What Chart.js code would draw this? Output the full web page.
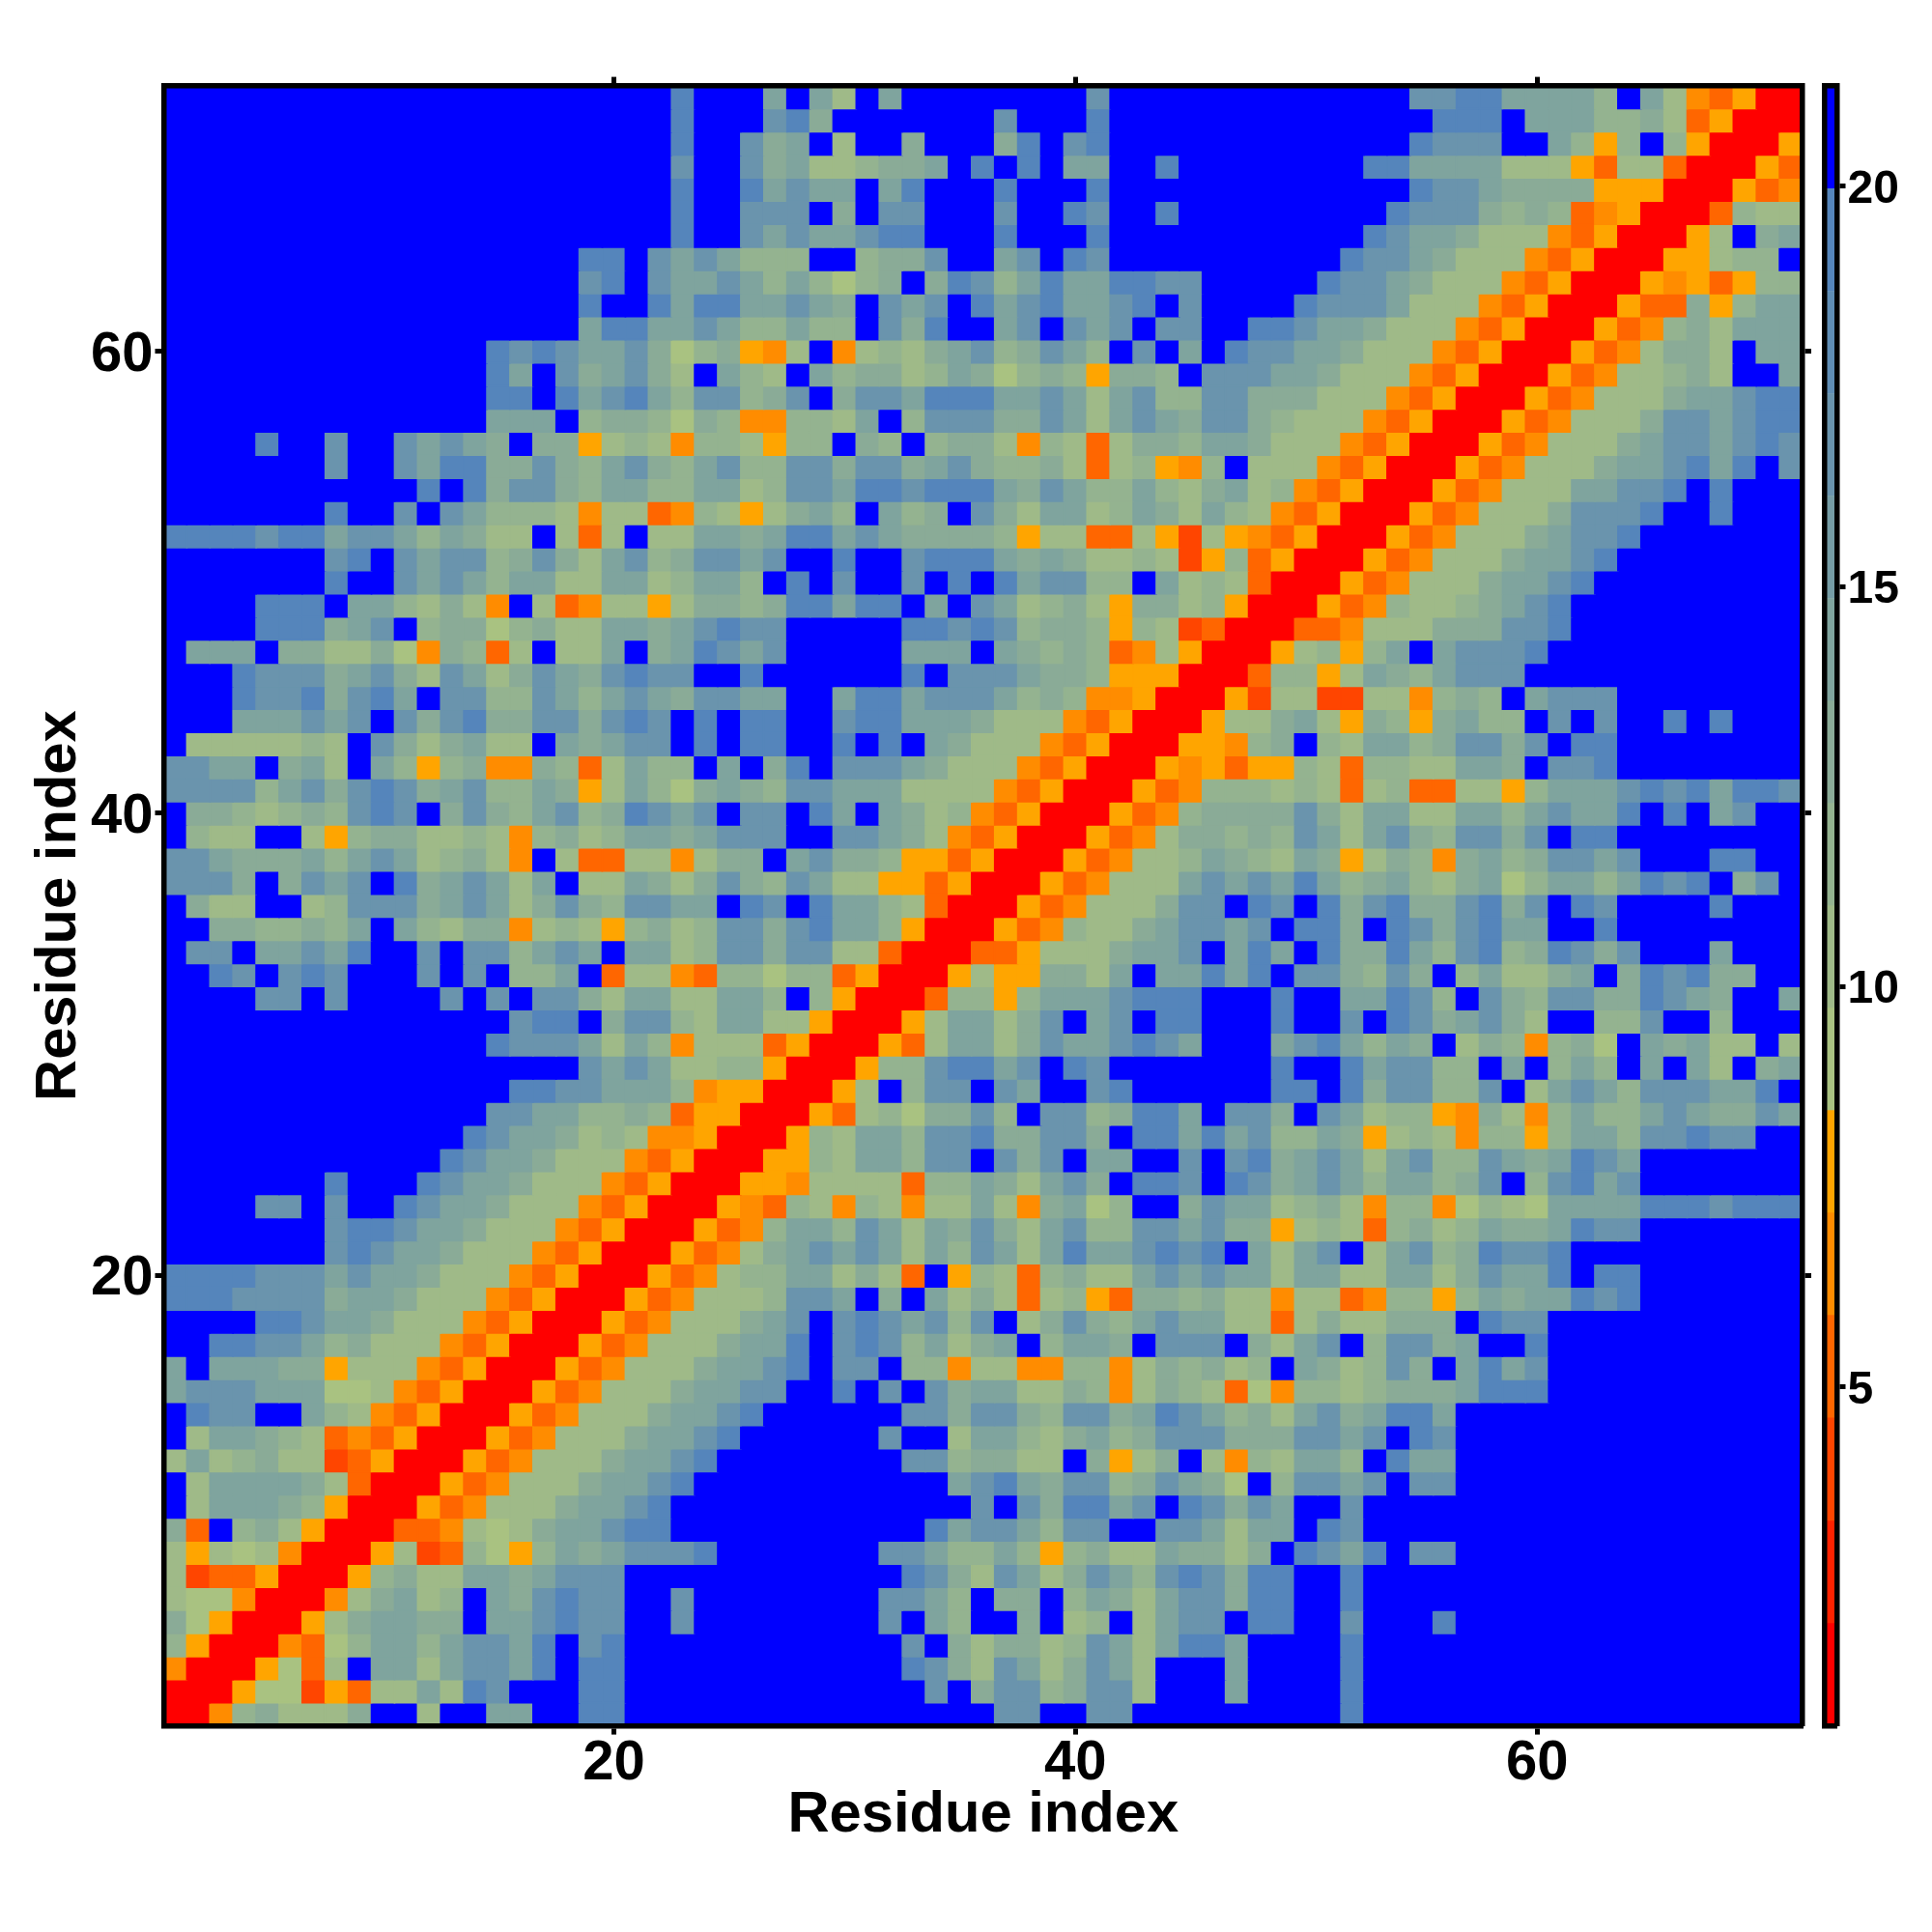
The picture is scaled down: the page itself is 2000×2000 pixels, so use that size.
<!DOCTYPE html>
<html>
<head>
<meta charset="utf-8">
<title>Residue distance map</title>
<script src="https://cdn.jsdelivr.net/npm/chart.js@4/dist/chart.umd.min.js"></script>
<style>
  html, body { margin: 0; padding: 0; background: #fff; }
  #wrap { position: relative; width: 2000px; height: 2000px; }
  canvas { position: absolute; top: 0; }
  #map { left: 0; }
  #bar { left: 1860px; }
</style>
</head>
<body>
<div id="wrap">
  <canvas id="map" width="2000" height="2000"></canvas>
  <canvas id="bar" width="140" height="2000"></canvas>
</div>
<script>
const axisTitle = "Residue index";
const residueTicks = [20, 40, 60];
const colorbarTicks = [5, 10, 15, 20];
const colorBreaks = [0.76, 2.04, 3.32, 4.61, 5.89, 7.17, 8.45, 9.73, 11.01, 12.29, 13.57, 14.85, 16.13, 17.41, 18.69, 19.97, 21.26];
const colorBins = ["#ff0000", "#ff2200", "#ff4500", "#ff6600", "#ff8c00", "#ffa500", "#a9c281", "#9fba88", "#94b390", "#8aab97", "#7fa49e", "#759ca5", "#6a94ad", "#5f8db4", "#5585bb", "#0000ff"];

// distances, top row (residue 71) first, each row runs x = 1..y, the map is symmetric
const distanceRows = [
[21,21,21,21,21,21,21,21,21,21,21,21,21,21,21,21,21,21,21,21,21,21,19,21,21,21,14,21,14,10,21,14,21,21,21,21,21,21,21,21,17,21,21,21,21,21,21,21,21,21,21,21,21,21,17,17,19,19,14,14,14,14,12,21,14,10,7,5,8,1,1],
[21,21,21,21,21,21,21,21,21,21,21,21,21,21,21,21,21,21,21,21,21,21,19,21,21,21,17,19,13,21,21,21,21,21,21,21,17,21,21,21,19,21,21,21,21,21,21,21,21,21,21,21,21,21,21,19,19,19,21,14,14,14,12,12,13,10,5,8,1,1],
[21,21,21,21,21,21,21,21,21,21,21,21,21,21,21,21,21,21,21,21,21,21,19,21,21,17,13,14,21,10,21,21,13,21,21,21,13,19,21,17,19,21,21,21,21,21,21,21,21,21,21,21,21,21,19,17,17,17,21,21,14,12,8,12,21,12,8,1,1],
[21,21,21,21,21,21,21,21,21,21,21,21,21,21,21,21,21,21,21,21,21,21,17,21,21,17,13,14,10,10,12,13,13,14,21,19,21,19,21,14,14,21,21,19,21,21,21,21,21,21,21,21,19,19,14,14,14,14,10,10,10,8,5,10,10,5,1,1],
[21,21,21,21,21,21,21,21,21,21,21,21,21,21,21,21,21,21,21,21,21,21,19,21,21,19,14,17,14,14,21,14,19,21,21,21,19,21,21,21,19,21,21,21,21,21,21,21,21,21,21,21,21,21,19,17,17,14,13,13,13,13,8,8,8,1,1],
[21,21,21,21,21,21,21,21,21,21,21,21,21,21,21,21,21,21,21,21,21,21,19,21,21,17,17,17,21,13,21,17,17,21,21,21,17,21,21,19,17,21,21,19,21,21,21,21,21,21,21,21,21,19,17,17,17,13,12,13,12,5,7,8,1,1],
[21,21,21,21,21,21,21,21,21,21,21,21,21,21,21,21,21,21,21,21,21,21,19,21,21,17,14,17,14,14,17,19,19,21,21,21,19,21,21,21,19,21,21,21,21,21,21,21,21,21,21,21,19,17,14,14,13,10,10,10,7,5,8,1,1],
[21,21,21,21,21,21,21,21,21,21,21,21,21,21,21,21,21,21,19,19,21,17,14,17,14,12,12,12,21,21,12,13,13,17,21,21,14,17,21,19,17,21,21,21,21,21,21,21,21,21,21,19,17,17,14,13,10,10,10,7,5,8,1,1],
[21,21,21,21,21,21,21,21,21,21,21,21,21,21,21,21,21,21,17,19,21,17,14,14,17,14,12,14,12,9,12,13,21,13,19,17,12,14,19,14,14,19,19,17,17,21,21,21,21,21,19,17,17,14,13,10,10,10,7,5,8,1,1],
[21,21,21,21,21,21,21,21,21,21,21,21,21,21,21,21,21,21,19,21,21,19,14,19,19,14,14,17,14,13,21,17,14,17,21,19,14,17,19,14,14,17,19,21,17,21,21,21,21,19,17,17,17,14,10,10,10,7,5,8,1,1],
[21,21,21,21,21,21,21,21,21,21,21,21,21,21,21,21,21,21,14,19,19,14,14,17,14,12,12,14,12,12,21,17,13,19,21,21,14,17,21,17,14,17,21,17,17,21,21,19,19,17,14,14,13,10,10,10,7,5,8,1,1],
[21,21,21,21,21,21,21,21,21,21,21,21,21,21,19,17,19,17,14,14,17,13,9,12,13,8,7,10,21,7,10,12,10,13,14,17,12,13,17,14,12,21,17,21,14,21,19,17,17,14,14,13,10,10,10,7,5,8,1,1],
[21,21,21,21,21,21,21,21,21,21,21,21,21,21,19,14,21,17,13,14,17,13,10,21,14,12,10,21,14,12,13,13,10,12,14,13,9,12,13,12,8,13,13,12,21,17,17,17,14,14,13,10,10,10,7,5,8,1,1],
[21,21,21,21,21,21,21,21,21,21,21,21,21,21,19,19,21,19,14,17,19,14,12,17,17,12,13,17,21,13,17,17,14,19,19,19,14,14,17,14,10,14,17,12,12,17,17,13,13,13,10,10,10,7,5,8,1,1],
[21,21,21,21,21,21,21,21,21,21,21,21,21,21,14,14,14,21,12,13,13,12,9,13,12,7,7,12,12,10,14,21,12,17,17,17,13,13,17,14,10,14,17,14,13,17,17,13,12,10,10,10,7,5,8,1,1],
[21,21,21,21,19,21,21,17,21,21,17,14,17,14,13,21,13,13,8,10,12,10,7,12,12,10,8,12,12,21,13,12,21,12,13,13,10,7,12,10,5,10,13,13,12,14,14,13,10,10,10,7,5,8,1,1],
[21,21,21,21,21,21,21,17,21,21,17,14,19,19,13,13,17,13,12,14,17,13,12,14,17,12,12,17,17,13,17,17,13,14,17,13,12,12,13,10,5,10,12,8,7,12,21,10,10,10,7,5,8,1,1],
[21,21,21,21,21,21,21,21,21,21,21,19,21,19,13,17,17,13,12,14,14,12,12,14,14,10,12,17,17,14,19,19,17,19,19,19,14,13,17,14,12,12,14,12,10,13,14,10,12,7,5,8,1,1],
[21,21,21,21,21,21,21,19,21,21,17,21,17,14,12,12,12,10,7,10,10,5,7,12,10,8,10,13,14,12,21,14,12,13,21,17,13,10,14,14,10,12,14,13,10,14,12,10,7,5,8,1,1],
[19,19,19,19,17,19,19,14,17,17,14,12,14,13,10,10,21,10,5,10,21,10,10,14,14,13,14,19,19,14,17,14,13,13,13,13,12,8,10,10,5,5,10,8,4,10,8,7,5,8,1,1],
[21,21,21,21,21,21,21,17,19,21,17,14,17,17,12,13,17,13,10,14,17,12,13,17,17,14,17,21,21,19,21,21,17,19,19,19,14,13,14,13,10,10,12,10,4,8,12,5,8,1,1],
[21,21,21,21,21,21,21,19,21,21,17,14,17,14,12,14,14,10,10,14,14,10,12,14,14,12,21,19,21,17,21,21,17,21,19,21,19,14,17,17,12,12,21,14,10,12,10,5,1,1],
[21,21,21,21,19,19,19,21,14,14,12,10,13,10,7,21,10,5,7,10,10,8,10,13,13,12,13,19,19,14,19,19,21,14,21,17,14,10,12,13,10,8,13,13,10,12,8,1,1],
[21,21,21,21,19,19,19,13,14,17,21,12,13,13,9,12,13,10,10,14,14,13,14,17,19,17,17,21,21,21,21,21,19,19,17,19,17,12,13,13,12,8,12,10,4,5,1,1],
[21,14,14,14,21,13,13,10,10,13,9,7,13,12,5,10,21,10,10,14,21,13,14,19,17,14,17,21,21,21,21,21,14,14,14,21,14,13,12,13,12,5,7,10,8,1,1],
[21,21,21,19,17,17,17,13,14,17,13,10,17,14,10,13,17,14,13,17,19,17,17,21,21,19,21,21,21,21,21,21,19,21,17,17,17,14,13,13,12,8,8,8,1,1],
[21,21,21,19,17,17,19,13,17,19,14,21,17,17,12,12,17,14,12,14,17,14,13,17,17,14,14,21,21,14,19,19,14,17,17,17,14,12,13,12,7,7,8,1,1],
[21,21,21,14,14,14,17,14,17,21,17,13,17,19,13,13,17,17,13,17,19,17,21,19,21,19,19,21,21,17,19,19,14,14,14,13,10,10,10,7,5,8,1,1],
[21,10,10,10,10,10,12,10,21,17,13,10,13,14,10,10,21,14,13,14,17,17,21,19,21,19,19,21,21,19,21,19,21,14,13,10,10,10,7,5,8,1,1],
[17,17,14,14,21,13,14,10,21,14,12,8,12,13,7,7,13,12,5,10,14,12,12,21,14,21,13,19,21,17,17,17,14,13,10,10,10,7,5,8,1,1],
[17,17,17,17,12,14,17,13,17,19,17,13,14,17,12,12,14,13,8,10,14,12,9,13,14,13,12,17,17,14,14,14,10,10,10,10,7,5,8,1,1],
[21,13,13,12,10,12,13,12,17,19,17,21,13,17,13,12,14,17,12,13,19,17,14,17,21,17,17,21,19,14,21,14,13,10,12,7,5,8,1,1],
[21,12,10,10,21,21,10,8,12,13,13,10,10,12,10,7,12,13,10,12,14,14,13,14,17,17,17,21,21,17,17,14,13,10,7,5,8,1,1],
[17,17,14,13,13,13,14,12,14,17,14,10,12,13,10,7,21,10,5,5,10,10,7,10,13,13,21,14,17,13,13,12,8,8,5,8,1,1],
[17,17,17,13,21,13,17,14,17,21,19,13,14,17,14,10,14,21,10,10,14,13,10,13,17,13,12,17,14,10,10,8,8,5,8,1,1],
[21,13,10,10,21,21,10,12,17,17,17,13,14,17,14,10,13,17,13,12,17,17,14,14,21,19,17,21,19,14,14,12,10,5,1,1],
[21,21,13,13,12,12,13,12,14,21,14,12,10,13,13,7,10,12,10,8,12,13,10,12,17,17,13,17,19,14,14,12,8,1,1],
[21,17,17,21,14,14,17,14,19,21,21,17,21,17,17,12,14,17,14,21,14,14,10,12,17,17,13,17,17,10,10,5,1,1],
[21,21,19,17,21,17,19,17,21,21,21,17,21,17,21,12,12,14,21,5,10,10,7,5,12,12,9,12,12,5,8,1,1],
[21,21,21,21,17,17,21,17,21,21,21,21,17,21,17,21,17,17,13,10,14,14,10,10,14,14,12,21,12,8,1,1],
[21,21,21,21,21,21,21,21,21,21,21,21,21,21,21,17,19,19,21,13,17,17,12,10,14,14,10,10,8,1,1],
[21,21,21,21,21,21,21,21,21,21,21,21,21,21,19,17,17,17,14,10,14,12,7,10,10,10,5,8,1,1],
[21,21,21,21,21,21,21,21,21,21,21,21,21,21,21,21,21,21,17,14,17,14,10,10,12,12,8,1,1],
[21,21,21,21,21,21,21,21,21,21,21,21,21,21,21,19,19,17,17,14,14,14,12,7,8,8,1,1],
[21,21,21,21,21,21,21,21,21,21,21,21,21,21,17,17,14,14,12,12,13,12,5,8,8,1,1],
[21,21,21,21,21,21,21,21,21,21,21,21,21,19,17,14,14,13,10,12,10,7,7,8,1,1],
[21,21,21,21,21,21,21,21,21,21,21,21,19,17,14,14,13,10,10,10,7,5,8,1,1],
[21,21,21,21,21,21,21,19,21,21,21,19,17,14,14,13,10,10,10,7,5,8,1,1],
[21,21,21,21,17,17,21,17,21,21,19,17,14,14,13,10,10,10,7,5,8,1,1],
[21,21,21,21,21,21,21,17,19,19,17,14,14,13,10,10,10,7,5,8,1,1],
[21,21,21,21,21,21,21,17,19,17,14,14,13,10,10,10,7,5,8,1,1],
[19,19,19,19,17,17,17,14,17,14,14,13,10,10,10,7,5,8,1,1],
[19,19,19,17,17,17,17,13,14,14,13,10,10,10,7,5,8,1,1],
[21,21,21,21,19,19,17,14,14,13,10,10,10,7,5,8,1,1],
[21,21,19,19,17,17,14,12,13,10,10,10,7,5,8,1,1],
[14,21,14,14,14,13,13,8,10,10,10,7,5,8,1,1],
[14,17,17,17,14,14,14,9,9,10,7,5,8,1,1],
[21,19,17,17,21,21,14,12,10,7,5,8,1,1],
[21,10,14,14,13,12,10,5,7,5,8,1,1],
[10,14,10,12,13,10,10,4,5,8,1,1],
[21,10,14,14,14,14,13,10,5,1,1],
[21,10,14,14,14,13,12,8,1,1],
[13,5,21,12,13,10,8,1,1],
[10,8,10,9,10,7,1,1],
[10,4,5,5,8,1,1],
[10,9,9,7,1,1],
[13,9,8,1,1],
[12,8,1,1],
[7,1,1],
[1,1],
[1]
];

const residueCount = distanceRows.length;
const labelFont = "'Liberation Sans', Arial, sans-serif";

function distanceAt(x, y) {
  const hi = Math.max(x, y), lo = Math.min(x, y);
  return distanceRows[residueCount - hi][lo - 1];
}

function binColor(value) {
  for (let k = 0; k < colorBins.length; k++) {
    if (value < colorBreaks[k + 1]) return colorBins[k];
  }
  return colorBins[colorBins.length - 1];
}

const cells = [];
for (let y = 1; y <= residueCount; y++) {
  for (let x = 1; x <= residueCount; x++) {
    cells.push({ x, y, v: distanceAt(x, y) });
  }
}

function fixedTicks(list) {
  return scale => { scale.ticks = list.map(value => ({ value })); };
}

function frameAxis(position, size, extra) {
  const horizontal = position === "top" || position === "bottom";
  return Object.assign({
    type: "linear",
    position,
    min: 0.5,
    max: residueCount + 0.5,
    afterBuildTicks: fixedTicks(residueTicks),
    afterFit: scale => { if (horizontal) scale.height = size; else scale.width = size; },
    border: { display: true, width: 5.5, color: "#000", z: 2 },
    grid: { drawOnChartArea: false, drawTicks: true, tickLength: 9, tickWidth: 5, tickColor: "#000" },
    ticks: { display: false }
  }, extra);
}

const tickFont = { family: labelFont, weight: "bold", size: 58 };
const titleFont = { family: labelFont, weight: "bold", size: 59.7, lineHeight: 1.2 };

new Chart(document.getElementById("map"), {
  type: "scatter",
  data: {
    datasets: [{
      data: cells,
      clip: 0,
      pointStyle: "rect",
      pointRadius: ctx => ctx.chart.scales.x.width / residueCount * Math.SQRT1_2,
      pointHoverRadius: ctx => ctx.chart.scales.x.width / residueCount * Math.SQRT1_2,
      pointBackgroundColor: ctx => binColor(ctx.raw.v),
      pointBorderColor: ctx => binColor(ctx.raw.v),
      pointBorderWidth: 1.6
    }]
  },
  options: {
    responsive: false,
    devicePixelRatio: 1,
    animation: false,
    events: [],
    layout: { padding: { left: 25.5, right: 0, top: 0, bottom: 84.9 } },
    plugins: { legend: { display: false }, tooltip: { enabled: false } },
    scales: {
      x: frameAxis("bottom", 128.5, {
        ticks: { display: true, autoSkip: false, maxRotation: 0, minRotation: 0, padding: -4, color: "#000", font: tickFont },
        title: { display: true, text: axisTitle, color: "#000", font: titleFont, padding: 0 }
      }),
      y: frameAxis("left", 144, {
        ticks: { display: true, autoSkip: false, maxRotation: 0, minRotation: 0, padding: 2, labelOffset: 4, color: "#000", font: tickFont },
        title: { display: true, text: axisTitle, color: "#000", font: titleFont, padding: 0 }
      }),
      x2: frameAxis("top", 88.6),
      y2: frameAxis("right", 134)
    }
  }
});

// colour key: one floating bar per bin, on its own value axis
function barAxis(position, size, extra) {
  return Object.assign({
    type: "linear",
    position,
    min: colorBreaks[0],
    max: colorBreaks[colorBreaks.length - 1],
    afterBuildTicks: fixedTicks(colorbarTicks),
    afterFit: scale => { scale.width = size; },
    border: { display: true, width: 5.5, color: "#000", z: 2 },
    grid: { drawOnChartArea: false, drawTicks: false },
    ticks: { display: false }
  }, extra);
}

new Chart(document.getElementById("bar"), {
  type: "bar",
  data: {
    labels: ["distance"],
    datasets: colorBins.map((color, k) => ({
      data: [[colorBreaks[k], colorBreaks[k + 1]]],
      backgroundColor: color,
      barPercentage: 1,
      categoryPercentage: 1,
      yAxisID: "y"
    }))
  },
  options: {
    responsive: false,
    devicePixelRatio: 1,
    animation: false,
    events: [],
    layout: { padding: { left: 29, right: 0, top: 0, bottom: 213.4 } },
    plugins: { legend: { display: false }, tooltip: { enabled: false } },
    scales: {
      x: {
        stacked: true,
        position: "bottom",
        afterFit: scale => { scale.height = 0; },
        border: { display: true, width: 5.5, color: "#000", z: 2 },
        grid: { display: false },
        ticks: { display: false }
      },
      xTop: {
        type: "category",
        labels: ["distance"],
        position: "top",
        afterFit: scale => { scale.height = 88.6; },
        border: { display: true, width: 5.5, color: "#000", z: 2 },
        grid: { display: false },
        ticks: { display: false }
      },
      yLeft: barAxis("left", 0),
      y: barAxis("right", 98.5, {
        grid: { drawOnChartArea: false, drawTicks: true, tickLength: 9, tickWidth: 5, tickColor: "#000" },
        ticks: {
          display: true,
          autoSkip: false,
          padding: 2,
          labelOffset: 4,
          color: "#000",
          font: { family: labelFont, weight: "bold", size: 48 }
        }
      })
    }
  }
});
</script>
</body>
</html>
